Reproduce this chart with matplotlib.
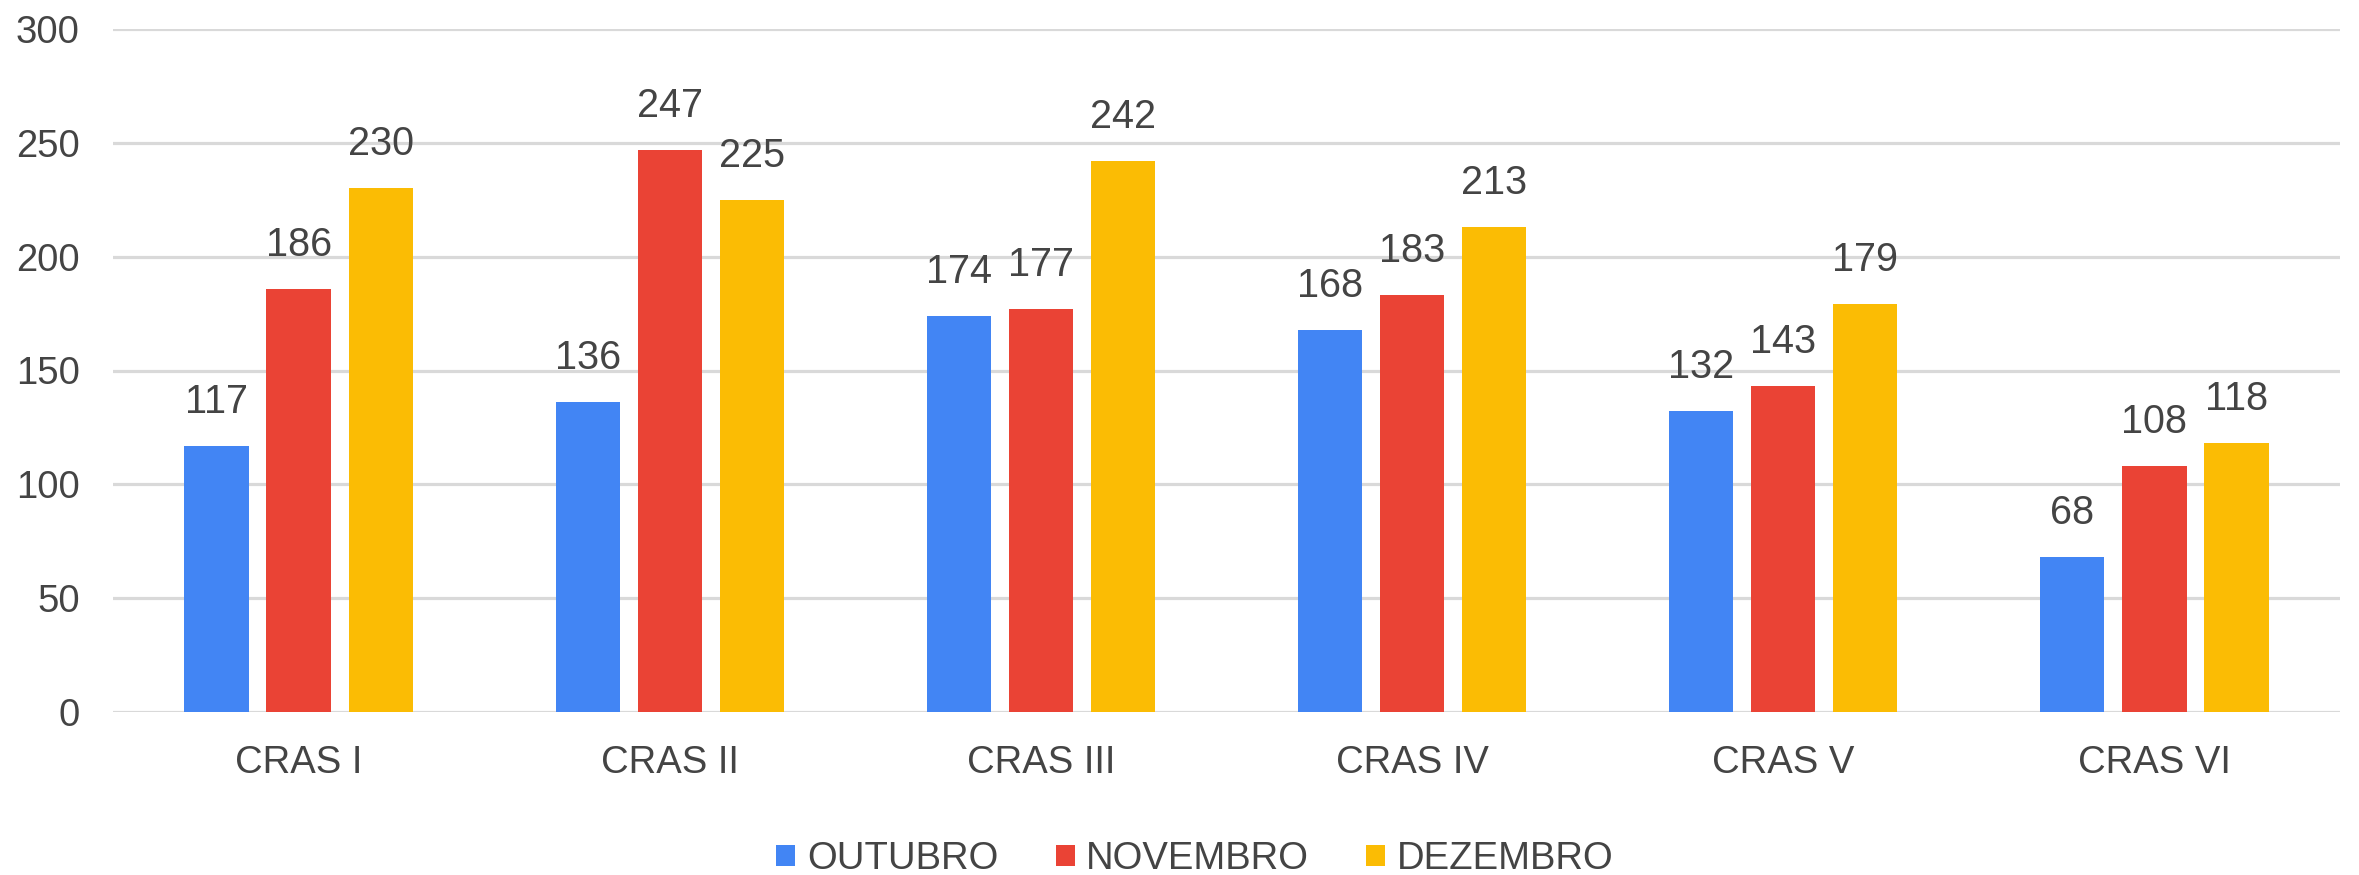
import matplotlib
matplotlib.use('Agg')
import matplotlib.pyplot as plt
import numpy as np

plt.rcParams['font.family'] = ['Liberation Sans', 'DejaVu Sans']

categories = ['CRAS I', 'CRAS II', 'CRAS III', 'CRAS IV', 'CRAS V', 'CRAS VI']
series_names = ['OUTUBRO', 'NOVEMBRO', 'DEZEMBRO']
outubro = [117, 136, 174, 168, 132, 68]
novembro = [186, 247, 177, 183, 143, 108]
dezembro = [230, 225, 242, 213, 179, 118]
colors = ['#4285F4', '#EA4335', '#FBBC04']

text_color = '#444444'
fs = 27.5

fig = plt.figure(figsize=(23.59, 8.75), dpi=100)
ax = fig.add_axes([113 / 2359, 1 - 712 / 875, (2340 - 113) / 2359, (712 - 29) / 875])

x = np.arange(len(categories))
bar_w = 0.173
step = 0.221
for i, (vals, name, c) in enumerate(zip([outubro, novembro, dezembro], series_names, colors)):
    pos = x + (i - 1) * step
    ax.bar(pos, vals, bar_w, color=c, label=name, zorder=3)
    for px, v in zip(pos, vals):
        ax.annotate(str(v), xy=(px, v), xytext=(0, 18), textcoords='offset points',
                    ha='center', va='bottom', fontsize=fs + 1, color=text_color)

ax.set_xlim(-0.5, len(categories) - 0.5)
ax.set_ylim(0, 300)
ax.set_yticks(range(0, 301, 50))
ax.set_xticks(x)
ax.set_xticklabels(categories)
ax.tick_params(axis='both', length=0, labelsize=fs, labelcolor=text_color)
ax.tick_params(axis='y', pad=24)
ax.tick_params(axis='x', pad=24)
ax.grid(axis='y', color='#d9d9d9', linewidth=2.3, zorder=0)
ax.set_axisbelow(True)
for s in ax.spines.values():
    s.set_visible(False)

leg = fig.legend(loc='center', bbox_to_anchor=(1195 / 2359, 1 - 859 / 875), ncol=3,
                 frameon=False, fontsize=fs, handlelength=0.5, handleheight=0.5,
                 handletextpad=0.3, columnspacing=1.5, borderaxespad=0)
for t in leg.get_texts():
    t.set_color(text_color)

fig.savefig('out.png', dpi=100, facecolor='white')
